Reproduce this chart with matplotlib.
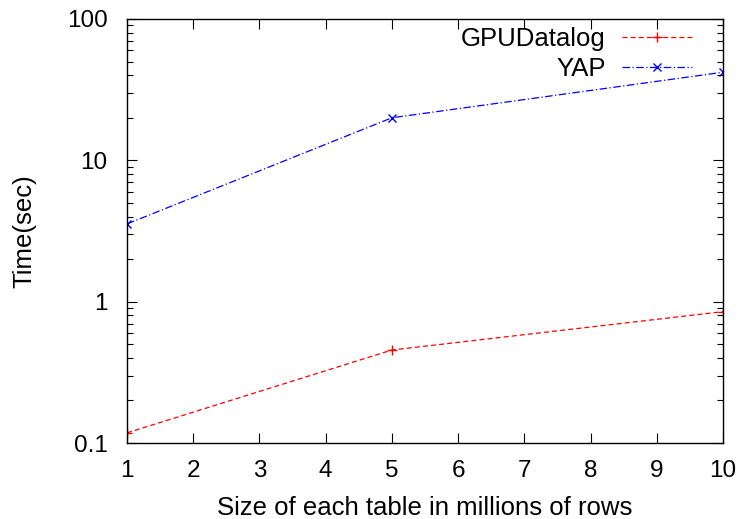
import matplotlib
matplotlib.use("Agg")
import matplotlib.pyplot as plt
from matplotlib.ticker import LogLocator, NullFormatter

plt.rcParams['font.family'] = ['Liberation Sans', 'DejaVu Sans']

sizes = [1, 5, 10]
gpu_times = [0.118, 0.455, 0.85]
yap_times = [3.55, 20.0, 42.0]
xticks = [1, 2, 3, 4, 5, 6, 7, 8, 9, 10]
yticks = [0.1, 1, 10, 100]
ytick_labels = ["0.1", "1", "10", "100"]

fs = 17.5
lfs = 18.5

fig = plt.figure(figsize=(7.43, 5.19), dpi=100)
ax = fig.add_axes([0.171, 0.1464, 0.802, 0.817])

ax.plot(sizes, gpu_times, color="red", linestyle=(0, (4, 2.5)), linewidth=0.9,
        marker="+", markersize=7, markeredgewidth=1.0, label="GPUDatalog")
ax.plot(sizes, yap_times, color="blue", linestyle=(0, (6, 2, 1, 2)), linewidth=0.9,
        marker="x", markersize=6, markeredgewidth=1.0, label="YAP")

ax.set_yscale("log")
ax.set_xlim(1, 10)
ax.set_ylim(0.1, 100)
ax.set_xticks(xticks)
ax.set_xticklabels([str(t) for t in xticks])
ax.set_yticks(yticks)
ax.set_yticklabels(ytick_labels)
ax.yaxis.set_minor_locator(LogLocator(base=10, subs=range(2, 10)))
ax.yaxis.set_minor_formatter(NullFormatter())

ax.tick_params(which="both", direction="in", top=True, right=True, labelsize=fs)
ax.tick_params(axis="x", pad=12)
ax.tick_params(axis="y", pad=14)
ax.tick_params(which="major", length=7, width=0.8)
ax.tick_params(which="minor", length=4, width=0.8)
for s in ax.spines.values():
    s.set_linewidth(1.0)

ax.set_xlabel("Size of each table in millions of rows", fontsize=lfs, labelpad=10)
ax.set_ylabel("Time(sec)", fontsize=lfs, labelpad=22)

ax.legend(loc="upper right", bbox_to_anchor=(0.965, 1.005), frameon=False, markerfirst=False,
          fontsize=lfs, handlelength=2.7, handletextpad=0.66, labelspacing=0.22,
          borderaxespad=0)

fig.savefig("out.png", dpi=100)
